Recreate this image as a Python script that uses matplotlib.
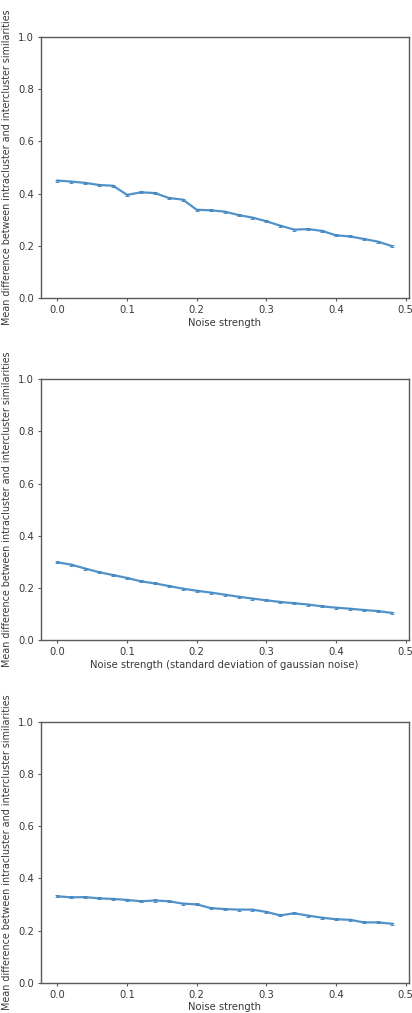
import matplotlib
matplotlib.use("Agg")
import matplotlib.pyplot as plt

noise = [0.00, 0.02, 0.04, 0.06, 0.08, 0.10, 0.12, 0.14, 0.16, 0.18, 0.20, 0.22, 0.24,
         0.26, 0.28, 0.30, 0.32, 0.34, 0.36, 0.38, 0.40, 0.42, 0.44, 0.46, 0.48]

diff_top = [0.450, 0.446, 0.441, 0.433, 0.430, 0.395, 0.405, 0.402, 0.383, 0.377, 0.338, 0.336, 0.331,
            0.318, 0.308, 0.294, 0.277, 0.262, 0.264, 0.257, 0.240, 0.236, 0.226, 0.216, 0.199]
diff_mid = [0.298, 0.289, 0.274, 0.260, 0.249, 0.238, 0.225, 0.217, 0.207, 0.197, 0.189, 0.182, 0.174,
            0.166, 0.159, 0.152, 0.146, 0.141, 0.136, 0.129, 0.124, 0.120, 0.115, 0.111, 0.104]
diff_bot = [0.331, 0.327, 0.328, 0.323, 0.321, 0.317, 0.312, 0.315, 0.312, 0.303, 0.300, 0.286, 0.282,
            0.280, 0.280, 0.271, 0.258, 0.266, 0.257, 0.249, 0.243, 0.241, 0.231, 0.231, 0.226]
err = [0.004, 0.004, 0.004, 0.004, 0.004, 0.004, 0.004, 0.004, 0.004, 0.004, 0.004, 0.004, 0.004,
       0.004, 0.004, 0.004, 0.004, 0.004, 0.004, 0.004, 0.004, 0.004, 0.004, 0.004, 0.004]

ylabel = "Mean difference between intracluster and intercluster similarities"
xlabels = ["Noise strength",
           "Noise strength (standard deviation of gaussian noise)",
           "Noise strength"]
series = [diff_top, diff_mid, diff_bot]

W, H = 412, 1013
fig = plt.figure(figsize=(W / 100, H / 100), dpi=100)

boxes = [(37, 298), (379.3, 640), (721.7, 982.7)]
left, right = 40.7, 408.5
fs = 7.2
txt = "#3a3a3a"
spc = "#5a5a5a"

for (top, bottom), ys, xl in zip(boxes, series, xlabels):
    ax = fig.add_axes([left / W, 1 - bottom / H, (right - left) / W, (bottom - top) / H])
    ax.errorbar(noise, ys, yerr=err, color="#3f86c2", lw=1.6, elinewidth=0.9,
                capsize=1.3, capthick=0.7, alpha=0.9)
    ax.set_ylim(0, 1.0)
    ax.set_xticks([0.0, 0.1, 0.2, 0.3, 0.4, 0.5])
    ax.set_yticks([0.0, 0.2, 0.4, 0.6, 0.8, 1.0])
    ax.tick_params(labelsize=fs, length=2.5, width=0.8, pad=2.5, colors=spc, labelcolor=txt)
    for s in ax.spines.values():
        s.set_color(spc)
        s.set_linewidth(1.0)
    ax.set_xlabel(xl, fontsize=fs, color=txt, labelpad=2)
    ax.set_ylabel(ylabel, fontsize=6.9, color=txt, labelpad=4)

fig.savefig("out.png", dpi=100)
